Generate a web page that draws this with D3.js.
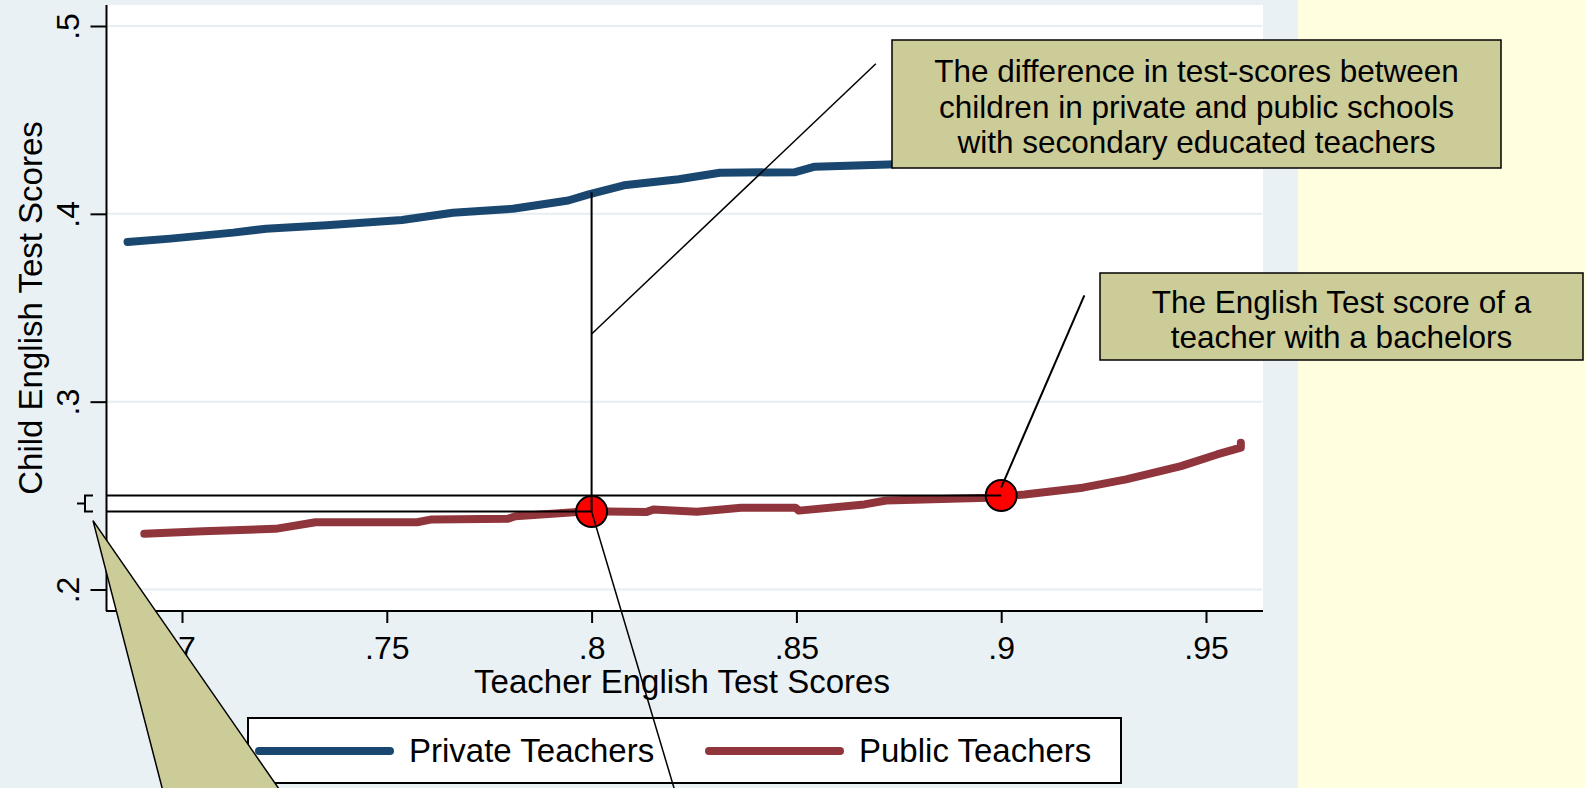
<!DOCTYPE html>
<html>
<head>
<meta charset="utf-8">
<script src="https://cdn.jsdelivr.net/npm/d3@7"></script>
<style>
  html, body { margin: 0; padding: 0; background: #fff; }
  svg { display: block; font-family: "Liberation Sans", Arial, sans-serif; }
</style>
</head>
<body>
<svg id="chart"></svg>
<script>
// teacher score (x) and child score (y)
const privateX = [0.6867, 0.6972, 0.7125, 0.7205, 0.7353, 0.7537, 0.7661, 0.7808, 0.7943, 0.7993, 0.8079, 0.8213, 0.8313, 0.8497, 0.8545, 0.8724, 0.9000, 0.9300, 0.9585];
const privateY = [0.3850, 0.3868, 0.3900, 0.3921, 0.3939, 0.3967, 0.4006, 0.4027, 0.4071, 0.4104, 0.4152, 0.4184, 0.4219, 0.4222, 0.4251, 0.4263, 0.4290, 0.4330, 0.4400];

const publicX = [0.6908, 0.7051, 0.7228, 0.7326, 0.7574, 0.7610, 0.7796, 0.7814, 0.7912, 0.7991, 0.8133, 0.8151, 0.8257, 0.8365, 0.8498, 0.8506, 0.8666, 0.8719, 0.8968, 0.9057, 0.9199, 0.9305, 0.9439, 0.9527, 0.9585, 0.9585];
const publicY = [0.2297, 0.2310, 0.2323, 0.2358, 0.2358, 0.2373, 0.2377, 0.2390, 0.2405, 0.2417, 0.2412, 0.2426, 0.2414, 0.2435, 0.2435, 0.2420, 0.2453, 0.2474, 0.2488, 0.2506, 0.2542, 0.2586, 0.2657, 0.2719, 0.2755, 0.2781];

const xTicks = [0.7, 0.75, 0.8, 0.85, 0.9, 0.95];
const yTicks = [0.2, 0.3, 0.4, 0.5];
const xTitle = "Teacher English Test Scores";
const yTitle = "Child English Test Scores";
const seriesNames = ["Private Teachers", "Public Teachers"];

// highlighted points: secondary-educated teacher and bachelor teacher
const markX = [0.8, 0.9];
const markY = [0.2415, 0.25];
const privateAtMark = 0.4104;

const note1 = ["The difference in test-scores between", "children in private and public schools", "with secondary educated teachers"];
const note2 = ["The English Test score of a", "teacher with a bachelors"];

const width = 1585, height = 788;
const plot = {left: 107, top: 5, right: 1263, bottom: 611};
const colors = {private: "#1a476f", public: "#90353b", bg: "#eaf1f4", grid: "#e6eef1", note: "#cccc99", side: "#ffffe0"};

const svg = d3.select("#chart").attr("width", width).attr("height", height);

const x = d3.scaleLinear().domain([0.7, 0.95]).range([182, 1206]);
const y = d3.scaleLinear().domain([0.2, 0.5]).range([589.5, 26]);

// backgrounds
svg.append("rect").attr("x", 0).attr("y", 0).attr("width", 1298).attr("height", height).attr("fill", colors.bg);
svg.append("rect").attr("x", 1298).attr("y", 0).attr("width", width - 1298).attr("height", height).attr("fill", colors.side);
svg.append("rect")
    .attr("x", plot.left).attr("y", plot.top)
    .attr("width", plot.right - plot.left).attr("height", plot.bottom - plot.top)
    .attr("fill", "#fff");

// grid
svg.append("g").selectAll("line")
    .data(yTicks)
    .join("line")
    .attr("x1", plot.left + 1).attr("x2", plot.right - 1)
    .attr("y1", d => y(d)).attr("y2", d => y(d))
    .attr("stroke", colors.grid).attr("stroke-width", 2);

const fmt = d => d3.format(".2~f")(d).replace(/^0/, "");

// x axis
const xAxis = svg.append("g")
    .attr("transform", `translate(0, ${plot.bottom})`)
    .call(d3.axisBottom(x).tickValues(xTicks).tickSize(12).tickSizeOuter(0).tickFormat(fmt));
xAxis.select(".domain").remove();
xAxis.append("line").attr("x1", plot.left - 1).attr("x2", plot.right).attr("stroke", "#000").attr("stroke-width", 2);
xAxis.selectAll(".tick line").attr("stroke-width", 2);
xAxis.selectAll(".tick text")
    .attr("y", 48).attr("dy", 0)
    .attr("fill", "#000").style("font-size", "32px").style("font-family", "Liberation Sans, Arial, sans-serif");

// y axis
const yAxis = svg.append("g")
    .attr("transform", `translate(${plot.left - 0.5}, 0)`)
    .call(d3.axisLeft(y).tickValues(yTicks).tickSize(16).tickSizeOuter(0).tickFormat(fmt));
yAxis.select(".domain").remove();
yAxis.append("line").attr("y1", plot.top).attr("y2", plot.bottom).attr("stroke", "#000").attr("stroke-width", 2);
yAxis.selectAll(".tick line").attr("stroke-width", 2);
yAxis.selectAll(".tick text")
    .attr("x", null).attr("dy", null)
    .attr("transform", "translate(-28, 0) rotate(-90)")
    .attr("text-anchor", "middle")
    .attr("fill", "#000").style("font-size", "32px").style("font-family", "Liberation Sans, Arial, sans-serif");

// odd little bracket Stata leaves on the y axis at the two marked scores
svg.append("path")
    .attr("d", `M${plot.left - 14},${y(markY[1])} H${plot.left - 22} V${y(markY[0])} H${plot.left - 14} M${plot.left - 30},${(y(markY[0]) + y(markY[1])) / 2} H${plot.left - 22}`)
    .attr("fill", "none").attr("stroke", "#000").attr("stroke-width", 2);

// axis titles
svg.append("text")
    .attr("x", (plot.left + plot.right) / 2 - 3).attr("y", 693)
    .attr("text-anchor", "middle").style("font-size", "33px")
    .text(xTitle);
svg.append("text")
    .attr("transform", `translate(42, ${(plot.top + plot.bottom) / 2}) rotate(-90)`)
    .attr("text-anchor", "middle").style("font-size", "33px")
    .text(yTitle);

// series lines
const line = d3.line().x(d => x(d[0])).y(d => y(d[1]));
const privateData = privateX.map((v, i) => [v, privateY[i]]);
const publicData = publicX.map((v, i) => [v, publicY[i]]);

svg.append("path").datum(privateData)
    .attr("d", line).attr("fill", "none")
    .attr("stroke", colors.private).attr("stroke-width", 8)
    .attr("stroke-linecap", "round").attr("stroke-linejoin", "round");
svg.append("path").datum(publicData)
    .attr("d", line).attr("fill", "none")
    .attr("stroke", colors.public).attr("stroke-width", 8)
    .attr("stroke-linecap", "round").attr("stroke-linejoin", "round");

// guide lines
const guides = svg.append("g").attr("stroke", "#000").attr("stroke-width", 2);
markX.forEach((mx, i) => {
    guides.append("line")
        .attr("x1", plot.left).attr("x2", x(mx))
        .attr("y1", y(markY[i])).attr("y2", y(markY[i]));
});
guides.append("line")
    .attr("x1", x(markX[0])).attr("x2", x(markX[0]))
    .attr("y1", y(privateAtMark) - 2).attr("y2", y(markY[0]));
// pointer lines from the notes
guides.append("line")
    .attr("x1", x(0.8694)).attr("y1", y(0.4799))
    .attr("x2", x(markX[0])).attr("y2", y(0.336)).attr("stroke-width", 1.5);
guides.append("line")
    .attr("x1", x(0.9203)).attr("y1", y(0.3566))
    .attr("x2", x(markX[1])).attr("y2", y(markY[1]) - 8);

// red markers
svg.append("g").selectAll("circle")
    .data(markX)
    .join("circle")
    .attr("cx", d => x(d))
    .attr("cy", (d, i) => y(markY[i]))
    .attr("r", 15.5)
    .attr("fill", "#ff0000").attr("stroke", "#000").attr("stroke-width", 2);

// the guide inside the first marker shows through
guides.raise();
svg.selectAll("circle").filter((d, i) => i === 1).raise();

// note boxes
function noteBox(x0, y0, w, h, lines, baselines) {
    const g = svg.append("g");
    g.append("rect").attr("x", x0).attr("y", y0).attr("width", w).attr("height", h)
        .attr("fill", colors.note).attr("stroke", "#000").attr("stroke-width", 1.5);
    g.selectAll("text").data(lines).join("text")
        .attr("x", x0 + w / 2).attr("y", (d, i) => baselines[i])
        .attr("text-anchor", "middle").style("font-size", "31.5px")
        .text(d => d);
}
noteBox(892, 40, 609, 128, note1, [82, 118, 153]);
noteBox(1100, 273, 483, 87, note2, [313, 348]);

// legend
const legend = svg.append("g");
legend.append("rect").attr("x", 248).attr("y", 718).attr("width", 873).attr("height", 65)
    .attr("fill", "#fff").attr("stroke", "#000").attr("stroke-width", 2);
const legendItems = [
    {name: seriesNames[0], color: colors.private, x0: 259},
    {name: seriesNames[1], color: colors.public, x0: 709}
];
legendItems.forEach(it => {
    legend.append("line").attr("x1", it.x0).attr("x2", it.x0 + 131).attr("y1", 751).attr("y2", 751)
        .attr("stroke", it.color).attr("stroke-width", 8).attr("stroke-linecap", "round");
    legend.append("text").attr("x", it.x0 + 150).attr("y", 762)
        .style("font-size", "33px").text(it.name);
});

// pointer of a note box that sits below the picture
svg.append("path")
    .attr("d", `M${x(0.67827)},${y(0.2367)} L${x(0.69714)},${y(0.0775)} L${x(0.72886)},${y(0.0775)} Z`)
    .attr("fill", colors.note).attr("stroke", "#000").attr("stroke-width", 1.5);

// line from the first marker down to the note below
svg.append("line")
    .attr("x1", x(markX[0])).attr("y1", y(markY[0]))
    .attr("x2", x(0.8203)).attr("y2", y(0.093))
    .attr("stroke", "#000").attr("stroke-width", 1.5);
</script>
</body>
</html>
